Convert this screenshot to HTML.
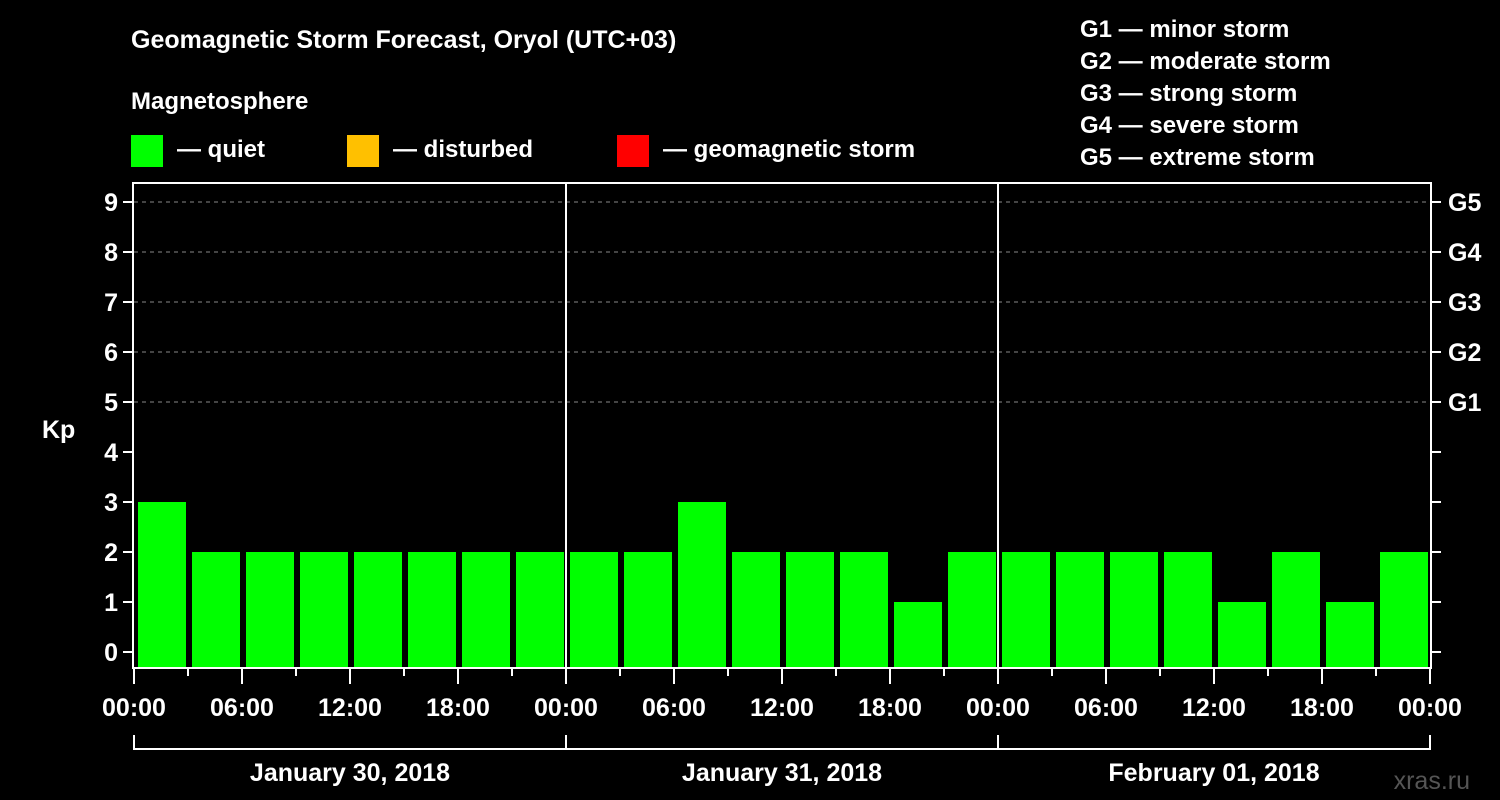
<!DOCTYPE html>
<html><head><meta charset="utf-8"><style>
html,body{margin:0;padding:0;background:#000;}
svg{display:block;font-family:"Liberation Sans",Arial,sans-serif;font-weight:bold;}
</style></head><body>
<svg id="chart" width="1500" height="800" viewBox="0 0 1500 800">
<rect width="1500" height="800" fill="#000"/>
<text x="131" y="48" fill="#fff" font-size="25">Geomagnetic Storm Forecast, Oryol (UTC+03)</text>
<text x="131" y="109" fill="#fff" font-size="24">Magnetosphere</text>
<g><rect x="131" y="135" width="32" height="32" fill="#00ff00"/><text x="177" y="157" fill="#fff" font-size="24">— quiet</text></g>
<g><rect x="347" y="135" width="32" height="32" fill="#ffc000"/><text x="393" y="157" fill="#fff" font-size="24">— disturbed</text></g>
<g><rect x="617" y="135" width="32" height="32" fill="#ff0000"/><text x="663" y="157" fill="#fff" font-size="24">— geomagnetic storm</text></g>
<g fill="#fff" font-size="24">
<text x="1080" y="37">G1 — minor storm</text>
<text x="1080" y="69">G2 — moderate storm</text>
<text x="1080" y="101">G3 — strong storm</text>
<text x="1080" y="133">G4 — severe storm</text>
<text x="1080" y="165">G5 — extreme storm</text>
</g>
<text x="42" y="438" fill="#fff" font-size="25">Kp</text>
<text x="1470" y="789" fill="#555" font-size="25" text-anchor="end" font-weight="normal">xras.ru</text>
<g id="plot"></g>
</svg>
<script>
const kpValues=[3,2,2,2,2,2,2,2, 2,2,3,2,2,2,1,2, 2,2,2,2,1,2,1,2];
const yTicks=[0,1,2,3,4,5,6,7,8,9];
const gLabels=["G1","G2","G3","G4","G5"];
const gLevels=[5,6,7,8,9];
const xTickLabels=["00:00","06:00","12:00","18:00","00:00","06:00","12:00","18:00","00:00","06:00","12:00","18:00","00:00"];
const dayLabels=["January 30, 2018","January 31, 2018","February 01, 2018"];
const NS="http://www.w3.org/2000/svg";
const L=134,R=1430,T=183,B=668;
const slot=(R-L)/kpValues.length;
const y=v=>652-50*v;
const x=i=>L+i*slot;
const g=document.getElementById('plot');
function mk(t,a,p){const e=document.createElementNS(NS,t);for(const k in a)e.setAttribute(k,a[k]);(p||g).appendChild(e);return e;}
// grid
gLevels.forEach(v=>{const e=mk('line',{x1:L,x2:R,y1:y(v),y2:y(v),stroke:'#888','stroke-dasharray':'4,4','stroke-width':1});

});
// bars
kpValues.forEach((v,i)=>{const e=mk('rect',{x:x(i)+4,y:y(v),width:slot-6,height:B-y(v),fill:v>=5?'#ff0000':(v>=4?'#ffc000':'#00ff00')});

});
// frame
const fr=mk('rect',{x:L-1,y:T,width:R-L+2,height:B-T,fill:'none',stroke:'#fff','stroke-width':2});


[1,2].forEach(d=>{const e=mk('line',{x1:x(d*8),x2:x(d*8),y1:T,y2:B,stroke:'#fff','stroke-width':2});

});
// y ticks
yTicks.forEach(v=>{mk('line',{x1:L-11,x2:L-1,y1:y(v),y2:y(v),stroke:'#fff','stroke-width':2});
mk('line',{x1:R+1,x2:R+11,y1:y(v),y2:y(v),stroke:'#fff','stroke-width':2});
const t=mk('text',{x:L-16,y:y(v)+9,fill:'#fff','font-size':25,'text-anchor':'end'});t.textContent=v;

});
gLabels.forEach((s,i)=>{const t=mk('text',{x:R+18,y:y(gLevels[i])+9,fill:'#fff','font-size':25});t.textContent=s;

});
// x ticks
for(let i=0;i<=kpValues.length;i++){const major=i%2===0;
mk('line',{x1:x(i),x2:x(i),y1:B,y2:B+(major?16:8),stroke:'#fff','stroke-width':2});}
xTickLabels.forEach((s,i)=>{const t=mk('text',{x:x(i*2),y:716,fill:'#fff','font-size':25,'text-anchor':'middle'});t.textContent=s;

});
// day brackets
mk('path',{d:`M${x(0)} 735V749H${x(24)}V735 M${x(8)} 735V749 M${x(16)} 735V749`,fill:'none',stroke:'#fff','stroke-width':2});
dayLabels.forEach((s,i)=>{const t=mk('text',{x:x(i*8+4),y:781,fill:'#fff','font-size':25,'text-anchor':'middle'});t.textContent=s;

});
</script>
</body></html>
